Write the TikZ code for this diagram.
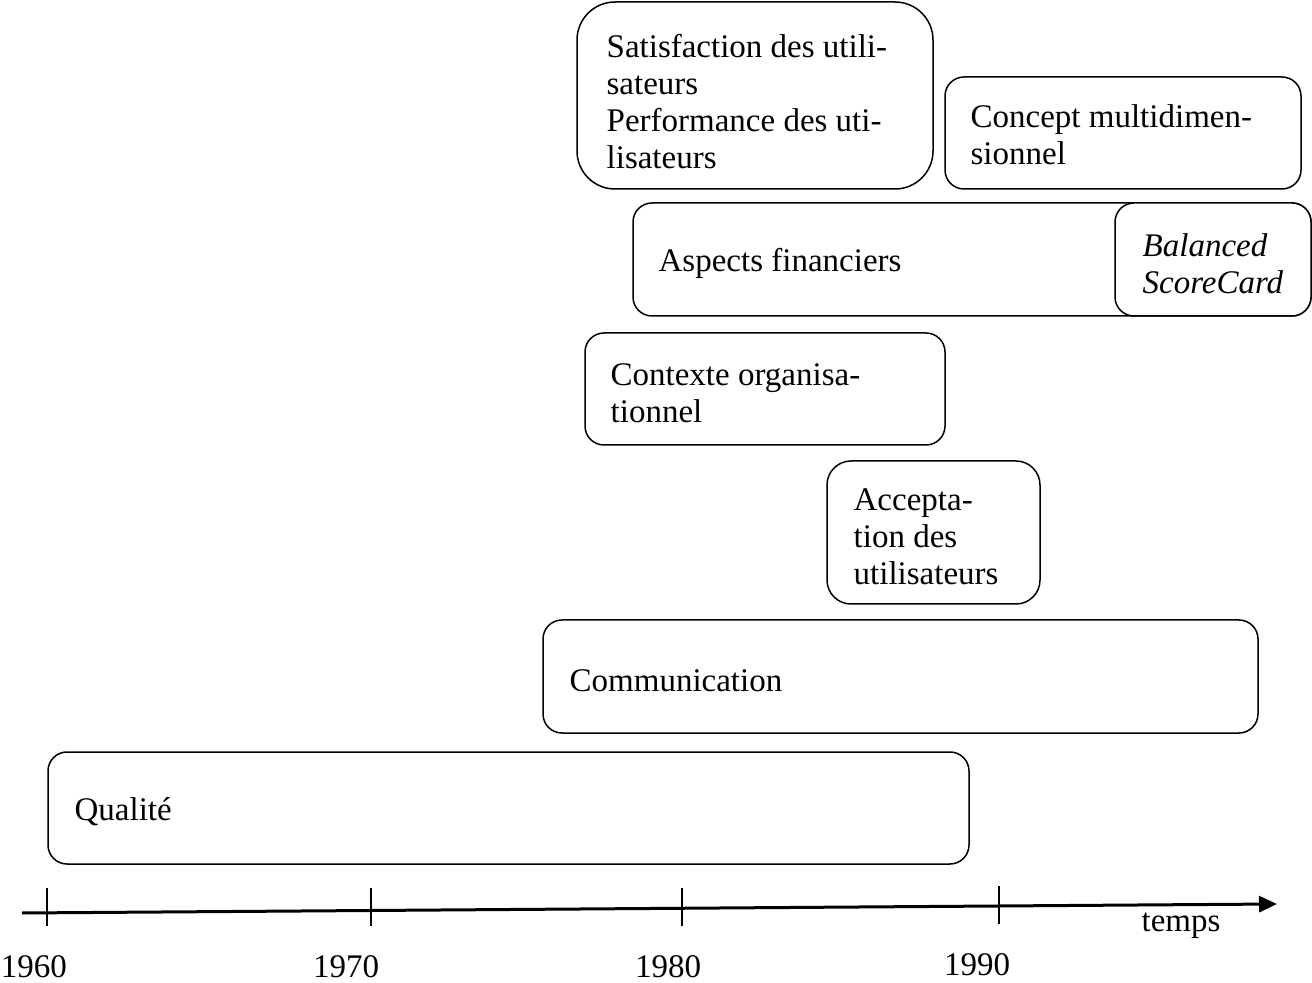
\documentclass[tikz,border=0pt]{standalone}
\usepackage{fontspec}
\setmainfont{Liberation Serif}
\usetikzlibrary{fit,arrows.meta}
\begin{document}
\begin{tikzpicture}[x=0.5pt,y=-0.5pt,
  box/.style={draw,line width=0.75pt,fill=white,inner sep=0pt,rounded corners=9.5pt},
  txt/.style={anchor=west,align=left,inner sep=0pt,font=\fontsize{16.5}{18.5}\selectfont},
  yr/.style={inner sep=0pt,font=\fontsize{16.5}{18.5}\selectfont},
  tick/.style={line width=0.6pt}]
\useasboundingbox (0,0) rectangle (1312,983);
% boxes
\node[box,rounded corners=19pt,fit={(577,2) (933,189)}] (sat) {};
\node[txt] (tsat) at ([xshift=15pt,yshift=-3pt]sat.west) {Satisfaction des utili-\\sateurs\\Performance des uti-\\lisateurs};
\node[box,fit={(945,77) (1301,189)}] (con) {};
\node[txt] (tcon) at ([xshift=13pt,yshift=-1pt]con.west) {Concept multidimen-\\sionnel};
\node[box,fit={(633,203) (1311,316)}] (asp) {};
\node[txt] (tasp) at ([xshift=13pt,yshift=-2pt]asp.west) {Aspects financiers};
\node[box,fit={(1115,203) (1311,316)}] (bal) {};
\node[txt] (tbal) at ([xshift=14pt,yshift=-2pt]bal.west) {\textit{Balanced}\\\textit{ScoreCard}};
\node[box,fit={(585,333) (945,445)}] (ctx) {};
\node[txt] (tctx) at ([xshift=13pt,yshift=-2pt]ctx.west) {Contexte organisa-\\tionnel};
\node[box,rounded corners=12pt,fit={(827,461) (1040,604)}] (acc) {};
\node[txt] (tacc) at ([xshift=13.5pt,yshift=-2pt]acc.west) {Accepta-\\tion des\\utilisateurs};
\node[box,fit={(543,620) (1258,733)}] (com) {};
\node[txt] (tcom) at ([xshift=13.5pt,yshift=-2pt]com.west) {Communication};
\node[box,fit={(48,752) (969,864)}] (qua) {};
\node[txt] (tqua) at ([xshift=13.5pt,yshift=-2pt]qua.west) {Qualité};
% axis
\coordinate (a0) at (22,913);
\coordinate (a1) at (1277,904);
\draw[line width=1.5pt,-{Triangle[length=9pt,width=8pt]}] (a0) -- (a1);
\coordinate (k1) at (47,888); \coordinate (k1b) at (47,926);
\coordinate (k2) at (371,888); \coordinate (k2b) at (371,926);
\coordinate (k3) at (682,888); \coordinate (k3b) at (682,926);
\coordinate (k4) at (999,886); \coordinate (k4b) at (999,924);
\draw[tick] (k1) -- (k1b);
\draw[tick] (k2) -- (k2b);
\draw[tick] (k3) -- (k3b);
\draw[tick] (k4) -- (k4b);
\node[yr] (y60) at (34,967) {1960};
\node[yr] (y70) at (346,967) {1970};
\node[yr] (y80) at (668,967) {1980};
\node[yr] (y90) at (977,965) {1990};
\node[yr] (tmp) at (1181,926) {temps};
\end{tikzpicture}
\end{document}
